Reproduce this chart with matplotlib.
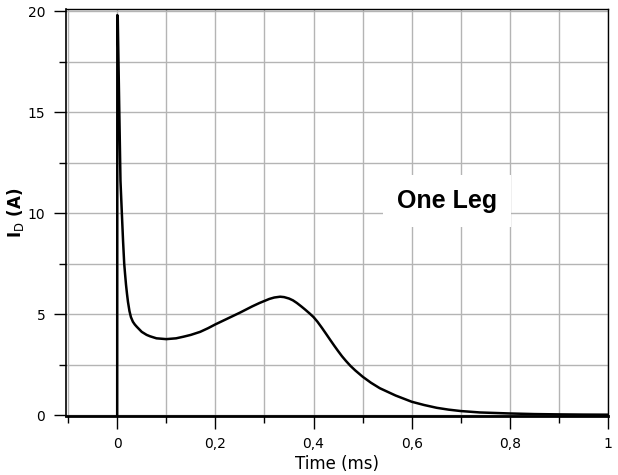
import numpy as np
import matplotlib.pyplot as plt
from matplotlib.ticker import MultipleLocator, FuncFormatter

# drain current, one leg
t_ms = [0, 0.0003, 0.0012, 0.004, 0.0067, 0.0095, 0.012, 0.0143, 0.016, 0.018,
        0.02, 0.022, 0.025, 0.028, 0.032, 0.036, 0.04, 0.05, 0.06, 0.067,
        0.08, 0.1, 0.12, 0.135, 0.15, 0.169, 0.185, 0.2, 0.225, 0.25,
        0.275, 0.29, 0.31, 0.32, 0.332, 0.34, 0.35, 0.358, 0.366, 0.375,
        0.383, 0.392, 0.4, 0.408, 0.417, 0.425, 0.434, 0.442, 0.45, 0.458,
        0.466, 0.475, 0.485, 0.5, 0.517, 0.535, 0.567, 0.6, 0.625, 0.651,
        0.675, 0.7, 0.739, 0.8, 0.85, 0.9, 0.95, 1.0]
i_d = [0, 19.8, 19.6, 15.5, 11.6, 10.0, 8.6, 7.5, 7.0, 6.45,
       6.0, 5.6, 5.15, 4.85, 4.62, 4.48, 4.37, 4.12, 3.97, 3.9,
       3.8, 3.76, 3.8, 3.88, 3.97, 4.12, 4.3, 4.49, 4.78, 5.07,
       5.38, 5.55, 5.75, 5.82, 5.86, 5.84, 5.77, 5.68, 5.55, 5.38,
       5.22, 5.03, 4.85, 4.62, 4.32, 4.04, 3.72, 3.44, 3.17, 2.91,
       2.68, 2.44, 2.21, 1.9, 1.6, 1.33, 0.97, 0.66, 0.5, 0.36,
       0.27, 0.2, 0.13, 0.08, 0.05, 0.035, 0.025, 0.02]

fig = plt.figure(figsize=(6.18, 4.75), dpi=100)
ax = fig.add_axes([0.107, 0.124, 0.877, 0.857])

ax.plot(t_ms, i_d, color='black', lw=1.8, zorder=3, solid_joinstyle='round')

ax.set_xlim(-0.104, 1.0)
ax.set_ylim(-0.05, 20.1)

ax.xaxis.set_major_locator(MultipleLocator(0.2))
ax.xaxis.set_minor_locator(MultipleLocator(0.1))
ax.yaxis.set_major_locator(MultipleLocator(5))
ax.yaxis.set_minor_locator(MultipleLocator(2.5))
ax.xaxis.set_major_formatter(FuncFormatter(lambda v, p: ('%g' % round(v, 2)).replace('.', ',')))

ax.grid(which='both', color='#b4b4b4', lw=1.0, zorder=0)
ax.set_axisbelow(True)

ax.tick_params(which='major', direction='out', length=9, width=1, labelsize=10, pad=6)
ax.tick_params(which='minor', direction='out', length=5, width=1)

ax.spines['bottom'].set_linewidth(2)
ax.spines['left'].set_linewidth(1.2)
ax.spines['top'].set_linewidth(1.0)
ax.spines['right'].set_linewidth(1.0)

ax.set_xlabel('Time (ms)', fontsize=12, labelpad=3)
ax.set_ylabel(r'$\mathbf{I}_{\mathrm{D}}$ (A)', fontsize=12, fontweight='bold', labelpad=1)

ax.text(0.672, 10.6, 'One Leg', fontsize=18, fontweight='bold', family='Liberation Sans',
        ha='center', va='center', zorder=4,
        bbox=dict(facecolor='white', edgecolor='none', pad=10))

fig.savefig('out.png', dpi=100)
